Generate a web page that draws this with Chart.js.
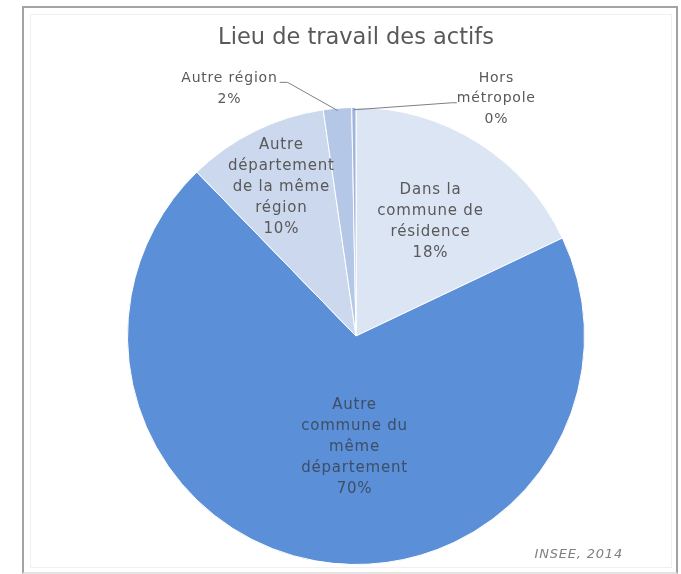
<!DOCTYPE html>
<html>
<head>
<meta charset="utf-8">
<title>Lieu de travail des actifs</title>
<script src="https://cdn.jsdelivr.net/npm/chart.js@4.4.0/dist/chart.umd.min.js"></script>
<style>
  body { margin: 0; background: #fff; }
  #wrap { position: relative; width: 681px; height: 574px; }
  #frame {
    position: absolute; left: 22px; top: 6px; width: 652px; height: 564px;
    border: 2px solid #a3a3a3; border-bottom-color: #e4e4e4;
  }
  #inner {
    position: absolute; left: 30px; top: 14px; width: 640px; height: 552px;
    border: 1px solid #f0f0f0;
  }
  canvas { position: absolute; left: 0; top: 0; }
</style>
</head>
<body>
<div id="wrap">
  <div id="frame"></div>
  <div id="inner"></div>
  <canvas id="chart0" width="681" height="574"></canvas>
</div>
<script>
var categories = [
  ['Dans la', 'commune de', 'résidence'],
  ['Autre', 'commune du', 'même', 'département'],
  ['Autre', 'département', 'de la même', 'région'],
  ['Autre région'],
  ['Hors', 'métropole']
];
var shares = [18, 70, 10, 2, 0.3];
var sliceColors = ['#dce5f4', '#5b8fd8', '#cbd8ee', '#b5c7e6', '#9fb5dc'];

// where each label sits: inside labels by radius fraction, outside ones by polar position
var placement = [
  { inside: true, r: 0.61, dx: 0 },
  { inside: true, r: 0.48, dx: 18 },
  { inside: true, r: 0.74, dx: 0 },
  { inside: false, deg: -27, d: 1.22, attach: 0 },
  { inside: false, deg: 30.5, d: 1.21, attach: 1 }
];

var FONT = '"DejaVu Sans", sans-serif';
var ctx = document.getElementById('chart0').getContext('2d');

var sliceLabels = {
  id: 'sliceLabels',
  afterDatasetsDraw: function(chart) {
    var c = chart.ctx;
    var meta = chart.getDatasetMeta(0);
    var total = shares.reduce(function(a, b) { return a + b; }, 0);
    c.save();
    c.textAlign = 'center';
    c.textBaseline = 'middle';
    c.letterSpacing = '0.8px';
    meta.data.forEach(function(arc, i) {
      var p = arc.getProps(['x', 'y', 'startAngle', 'endAngle', 'outerRadius'], true);
      var mid = (p.startAngle + p.endAngle) / 2;
      var pl = placement[i];
      var lines = categories[i].concat([Math.round(shares[i] / total * 100) + '%']);
      if (pl.inside) {
        c.font = '15px ' + FONT;
        c.fillStyle = i === 1 ? '#3d4f66' : '#595959';
        var lh = 21;
        var cx = p.x + Math.cos(mid) * p.outerRadius * pl.r + pl.dx;
        var cy = p.y + Math.sin(mid) * p.outerRadius * pl.r + 3;
        lines.forEach(function(t, k) {
          c.fillText(t, cx, cy + (k - (lines.length - 1) / 2) * lh);
        });
      } else {
        c.font = '14px ' + FONT;
        c.fillStyle = '#595959';
        var lh2 = 20.5;
        var a = pl.deg * Math.PI / 180;
        var bx = p.x + Math.sin(a) * p.outerRadius * pl.d;
        var by = p.y - Math.cos(a) * p.outerRadius * pl.d + 1;
        var top = by - (lines.length - 1) / 2 * lh2;
        lines.forEach(function(t, k) {
          c.fillText(t, bx, top + k * lh2);
        });
        // leader line from the slice edge to the label
        var w = c.measureText(lines[pl.attach]).width;
        var right = bx > p.x;
        var ax = right ? bx - w / 2 : bx + w / 2 + 2;
        var ay = top + pl.attach * lh2 + 4;
        var ex = ax + (right ? -5 : 8);
        c.strokeStyle = '#7f7f7f';
        c.lineWidth = 1;
        c.beginPath();
        c.moveTo(p.x + Math.cos(mid) * p.outerRadius * 0.99, p.y + Math.sin(mid) * p.outerRadius * 0.99);
        c.lineTo(ex, ay);
        c.lineTo(ax, ay);
        c.stroke();
      }
    });
    // source note
    c.font = 'italic 13px ' + FONT;
    c.fillStyle = '#7f7f7f';
    c.textAlign = 'right';
    c.fillText('INSEE, 2014', chart.width - 58, 555);
    c.restore();
  }
};

var chart = new Chart(ctx, {
  type: 'pie',
  data: {
    labels: categories.map(function(l) { return l.join(' '); }),
    datasets: [{
      data: shares,
      backgroundColor: sliceColors,
      borderColor: '#ffffff',
      borderWidth: 1
    }]
  },
  options: {
    responsive: false,
    animation: false,
    layout: { padding: { left: 31, right: 0, top: 0, bottom: 9 } },
    plugins: {
      legend: { display: false },
      tooltip: { enabled: false },
      title: {
        display: true,
        text: 'Lieu de travail des actifs',
        color: '#595959',
        font: { family: FONT, size: 22.5, weight: 'normal' },
        padding: { top: 25, bottom: 55 }
      }
    }
  },
  plugins: [sliceLabels]
});
</script>
</body>
</html>
